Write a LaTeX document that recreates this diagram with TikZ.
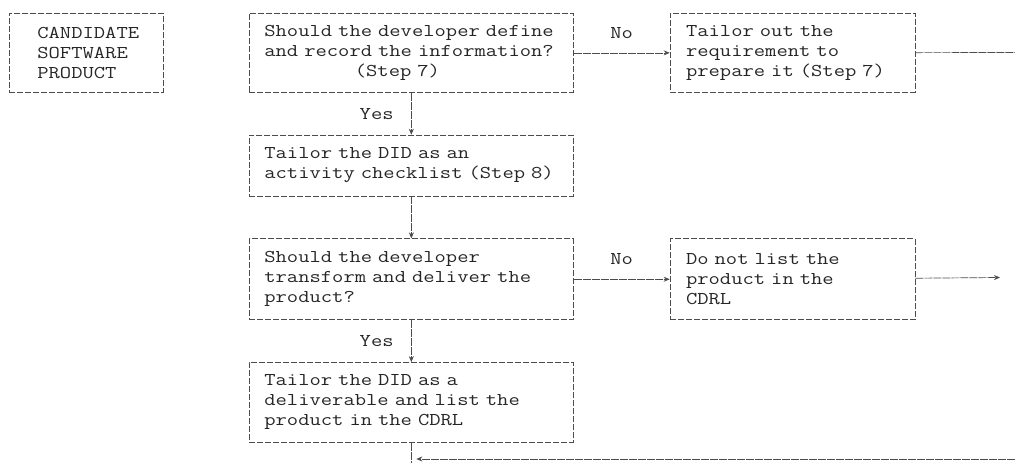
\documentclass[tikz,border=0pt]{standalone}
\usepackage{fontspec}
\setmonofont[FakeStretch=1.22]{Latin Modern Mono}
\usetikzlibrary{positioning,arrows.meta}

\begin{document}
\begin{tikzpicture}[
    x=1pt, y=-1pt,
    dbox/.style={
        draw=black!70,
        dash pattern=on 6pt off 2pt,
        line width=0.7pt,
        inner xsep=15pt,
        text width=294pt,
        align=left,
        anchor=north west,
        text=black!85,
        font=\ttfamily\fontsize{18}{20}\selectfont
    },
    link/.style={
        draw=black!70,
        dash pattern=on 8pt off 1pt,
        line width=0.7pt,
        -{Stealth[length=6pt,width=5pt]}
    },
    lbl/.style={
        text=black!85,
        font=\ttfamily\fontsize{18}{20}\selectfont
    }
]
  \useasboundingbox (0,0) rectangle (1015,463);

  % left column
  \node[dbox,inner xsep=28pt,text width=98pt,minimum height=79pt] (cand) at (9,13)
    {CANDIDATE\\SOFTWARE\\PRODUCT};

  % main column
  \node[dbox,minimum height=79pt] (define) at (249,13)
    {Should the developer define\\and record the information?\\\hspace*{8\fontcharwd\font`M}(Step 7)};
  \node[dbox,minimum height=61pt,below=42pt of define] (checklist)
    {Tailor the DID as an\\activity checklist (Step 8)};
  \node[dbox,minimum height=81pt,below=42pt of checklist] (deliver)
    {Should the developer\\transform and deliver the\\product?};
  \node[dbox,minimum height=80pt,below=42pt of deliver] (deliverable)
    {Tailor the DID as a\\deliverable and list the\\product in the CDRL};

  % right column
  \node[dbox,text width=213pt,inner xsep=16pt,minimum height=79pt,right=96pt of define] (tailorout)
    {Tailor out the\\requirement to\\prepare it (Step 7)};
  \node[dbox,text width=213pt,inner xsep=16pt,minimum height=81pt,right=96pt of deliver] (nolist)
    {Do not list the\\product in the\\CDRL};

  % free ends
  \coordinate (out1) at (1015,52.5);
  \coordinate (out2) at (1000,277.5);
  \coordinate (bottom) at (deliverable.south |- 0,463);
  \coordinate (back) at (1015,459);
  \coordinate (join) at (deliverable.south |- back);

  \draw[link] (define) -- node[lbl,above=11pt]{No} (tailorout);
  \draw[link] (define) -- node[lbl,left=14pt]{Yes} (checklist);
  \draw[link] (checklist) -- (deliver);
  \draw[link] (deliver) -- node[lbl,above=11pt]{No} (nolist);
  \draw[link] (deliver) -- node[lbl,left=14pt]{Yes} (deliverable);
  \draw[link,-] (tailorout) -- (out1);
  \draw[link] (nolist) -- (out2);
  \draw[link,-] (deliverable) -- (bottom);
  \draw[link,shorten >=5pt] (back) -- (join);
\end{tikzpicture}
\end{document}
